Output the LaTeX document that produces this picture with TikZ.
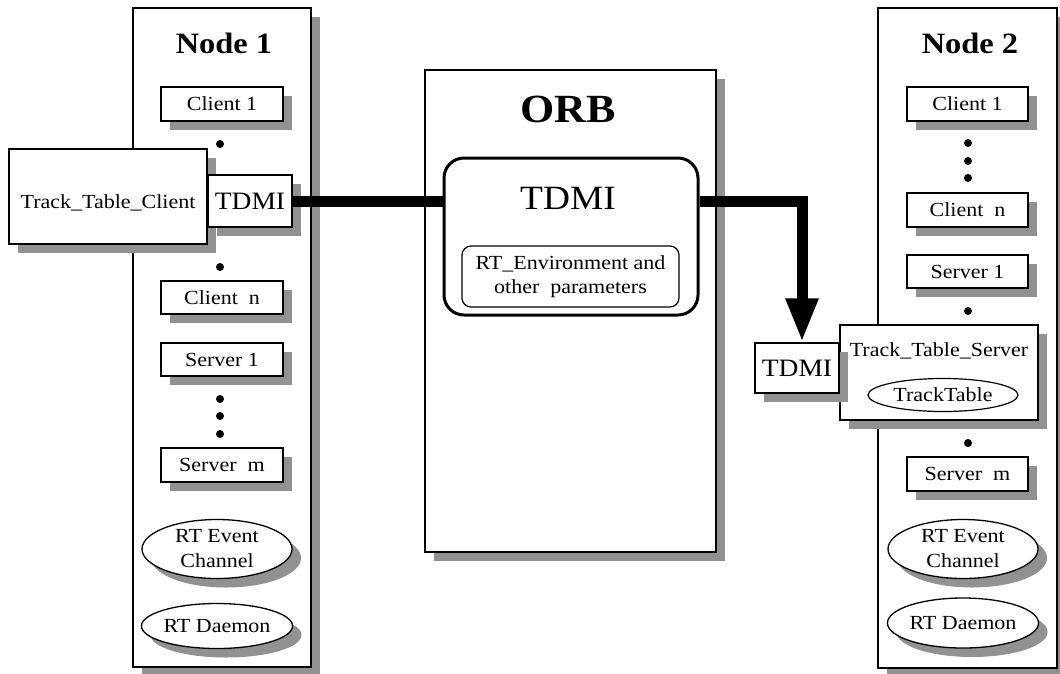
\documentclass[tikz,border=0pt]{standalone}
\usepackage{fontspec}
\setmainfont{Liberation Serif}[FakeStretch=1.1]
\usetikzlibrary{shadows,shapes.geometric,arrows.meta}
\definecolor{shadowgray}{RGB}{145,145,145}
\tikzset{
  shadowed/.style={drop shadow={shadow xshift=9pt,shadow yshift=-9pt,fill=shadowgray,draw=none,opacity=1}},
  frame/.style={draw,line width=1.3pt,fill=white,shadowed,rectangle,inner sep=0pt},
  smallbox/.style={frame,minimum width=122pt,minimum height=34pt,font=\fontsize{20}{24}\selectfont},
  oval/.style={draw,line width=1.3pt,fill=white,shadowed,ellipse,inner sep=0pt,minimum width=150pt,align=center,font=\fontsize{20}{25}\selectfont},
  dotmark/.style={circle,fill=black,minimum size=8pt,inner sep=0pt},
  title/.style={font=\fontsize{29.5}{34}\bfseries\selectfont},
  link/.style={line width=11pt,line join=miter}
}
\begin{document}
\begin{tikzpicture}[x=1pt,y=-1pt]
\useasboundingbox (0,0) rectangle (1060,673);

% ---- ORB ----
\node[frame,minimum width=291pt,minimum height=482pt] (orb) at (570.5,311) {};
\node[font=\fontsize{40}{46}\bfseries\selectfont] (orbtitle) at (568,109) {ORB};
\node[draw,line width=3pt,fill=white,rounded corners=20pt,minimum width=254pt,minimum height=157pt,inner sep=0pt] (orbtdmi) at (571,236.5) {};
\node[font=\fontsize{34}{40}\selectfont] (orbtdmitext) at (568,198) {TDMI};
\node[draw,line width=1.2pt,rounded corners=9pt,minimum width=217pt,minimum height=61pt,inner sep=0pt,align=center,font=\fontsize{20}{24}\selectfont] (rtenv) at (570.5,276.5) {RT\_Environment and\\other\ \ parameters};

% ---- Node 1 ----
\node[frame,minimum width=178pt,minimum height=659pt] (node1) at (222,337.5) {};
\node[title] (n1title) at (224,43) {Node 1};
\node[smallbox] (n1c1) at (222,104) {Client 1};
\node[dotmark] (n1d1) at (220,144) {};
\node[frame,minimum width=198pt,minimum height=95pt] (ttc) at (108,196.5) {};
\node[font=\fontsize{20}{24}\selectfont] (ttctext) at (108,203) {Track\_Table\_Client};
\node[frame,minimum width=84pt,minimum height=52pt,font=\fontsize{25}{30}\selectfont] (tdmi1) at (250,201) {TDMI};
\node[dotmark] (n1d2) at (220,267) {};
\node[smallbox,minimum height=33pt] (n1cn) at (222,297.5) {Client\ \ n};
\node[smallbox,minimum height=33pt] (n1s1) at (222,359.5) {Server 1};
\node[dotmark] (n1d3) at (220,399) {};
\node[dotmark] (n1d4) at (220,416) {};
\node[dotmark] (n1d5) at (220,434) {};
\node[smallbox] (n1sm) at (222,465) {Server\ \ m};
\node[oval,minimum height=59pt] (n1ec) at (217,549) {RT Event\\Channel};
\node[oval,minimum height=45pt] (n1rd) at (217,626) {RT Daemon};

% ---- Node 2 ----
\node[frame,minimum width=179pt,minimum height=660pt] (node2) at (967.5,338) {};
\node[title] (n2title) at (970,43) {Node 2};
\node[smallbox,minimum width=121pt] (n2c1) at (967.5,104) {Client 1};
\node[dotmark] (n2d1) at (968,143) {};
\node[dotmark] (n2d2) at (968,161) {};
\node[dotmark] (n2d3) at (968,178) {};
\node[smallbox,minimum width=121pt] (n2cn) at (967.5,210) {Client\ \ n};
\node[smallbox,minimum width=121pt,minimum height=33pt] (n2s1) at (967.5,271.5) {Server 1};
\node[dotmark] (n2d4) at (968,311) {};
\node[frame,minimum width=198pt,minimum height=95pt] (tts) at (939,372.5) {};
\node[font=\fontsize{20}{24}\selectfont] (ttstext) at (939,351) {Track\_Table\_Server};
\node[draw,line width=1.2pt,ellipse,minimum width=150pt,minimum height=33pt,inner sep=0pt,font=\fontsize{20}{24}\selectfont] (tracktable) at (943,395) {TrackTable};
\node[frame,minimum width=84pt,minimum height=50pt,font=\fontsize{25}{30}\selectfont] (tdmi2) at (797,368) {TDMI};
\node[dotmark] (n2d5) at (968,443) {};
\node[smallbox,minimum width=121pt] (n2sm) at (967.5,474) {Server\ \ m};
\node[oval,minimum height=59pt] (n2ec) at (963,549) {RT Event\\Channel};
\node[oval,minimum height=50pt] (n2rd) at (963,623) {RT Daemon};

% ---- connectors ----
\draw[link] (tdmi1.east) -- (orbtdmi.west |- tdmi1.east);
\coordinate (bend) at (802,201);
\draw[link,-{Triangle[width=30pt,length=44pt]}] (orbtdmi.east |- tdmi1.east) -- (bend) -- (bend |- tdmi2.north);
\end{tikzpicture}
\end{document}
